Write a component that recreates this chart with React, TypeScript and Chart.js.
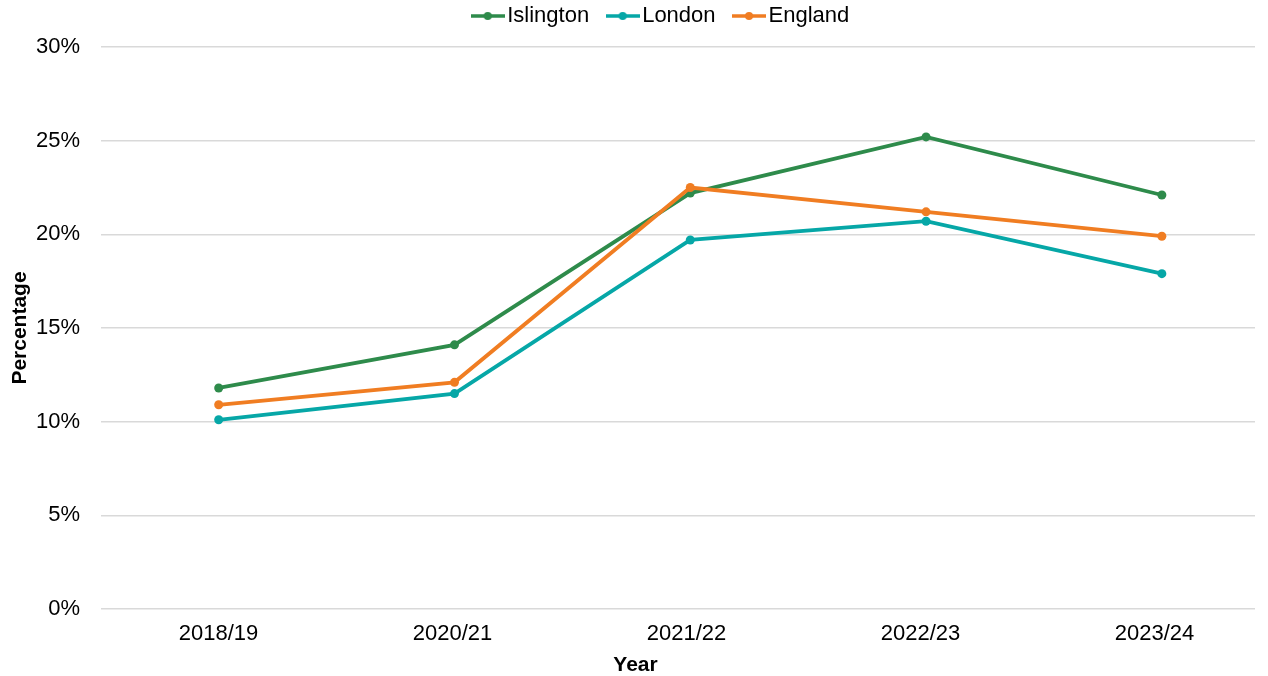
import React, { useEffect, useRef } from "react";
import { Chart, registerables } from "chart.js";

Chart.register(...registerables);

const years = ["2018/19", "2020/21", "2021/22", "2022/23", "2023/24"];
const islington = [11.8, 14.1, 22.2, 25.2, 22.1];
const london = [10.1, 11.5, 19.7, 20.7, 17.9];
const england = [10.9, 12.1, 22.5, 21.2, 19.9];
const yTicks = [0, 5, 10, 15, 20, 25, 30];

const seriesNames = ["Islington", "London", "England"];
const seriesColors = ["#2E8B4B", "#06A7A7", "#F07D22"];
const seriesOrder = [1, 2, 0];

const FONT = "'Liberation Sans', Arial, sans-serif";
const LEGEND_CENTER = 664.25;
const YEAR_CENTER = 635.5;

function makeMarker(color: string): HTMLCanvasElement {
  const c = document.createElement("canvas");
  c.width = 34;
  c.height = 10;
  const ctx = c.getContext("2d")!;
  ctx.strokeStyle = color;
  ctx.lineWidth = 3.3;
  ctx.beginPath();
  ctx.moveTo(0, 5);
  ctx.lineTo(34, 5);
  ctx.stroke();
  ctx.fillStyle = color;
  ctx.beginPath();
  ctx.arc(17, 5, 4, 0, Math.PI * 2);
  ctx.fill();
  return c;
}

const shiftPlugin = {
  id: "shiftBlocks",
  afterLayout(chart: any) {
    const lg = chart.legend;
    if (lg) {
      const d = LEGEND_CENTER - (lg.left + lg.right) / 2;
      lg.left += d;
      lg.right += d;
    }
    const tb = chart.titleBlock;
    if (tb) {
      const d = YEAR_CENTER - (tb.left + tb.right) / 2;
      tb.left += d;
      tb.right += d;
    }
  },
};

export default function App() {
  const canvasRef = useRef<HTMLCanvasElement | null>(null);

  useEffect(() => {
    if (!canvasRef.current) return;
    const seriesValues = [islington, london, england];
    const markers = seriesColors.map((c) => makeMarker(c));
    const datasets = seriesValues.map((vals, si) => ({
      label: seriesNames[si],
      data: vals.map((v, i) => ({ x: i, y: v })),
      xAxisID: "x",
      borderColor: seriesColors[si],
      backgroundColor: seriesColors[si],
      pointBackgroundColor: seriesColors[si],
      pointBorderWidth: 0,
      pointRadius: 4.5,
      borderWidth: 3.8,
      tension: 0,
      order: seriesOrder[si],
    }));

    const chart = new Chart(canvasRef.current, {
      type: "line",
      data: { datasets },
      plugins: [shiftPlugin],
      options: {
        animation: false,
        responsive: true,
        maintainAspectRatio: false,
        layout: { padding: { top: -20, right: 13, left: 0, bottom: -2.1 } },
        plugins: {
          legend: {
            position: "top",
            labels: {
              font: { family: FONT, size: 22 },
              color: "#000",
              usePointStyle: true,
              boxWidth: 17,
              boxHeight: 17,
              padding: 25,
              generateLabels: (ch: any) =>
                ch.data.datasets.map((ds: any, i: number) => ({
                  text: ds.label,
                  pointStyle: markers[i],
                  datasetIndex: i,
                  hidden: false,
                  fillStyle: ds.borderColor,
                  strokeStyle: ds.borderColor,
                  lineWidth: 0,
                  fontColor: "#000",
                })),
            },
          },
          subtitle: {
            display: true,
            text: "",
            position: "top",
            weight: 100,
            padding: 0,
            font: { size: 10, lineHeight: 1 },
          } as any,
          title: {
            display: true,
            text: "Year",
            position: "bottom",
            padding: 0,
            color: "#000",
            font: { family: FONT, size: 21, weight: "bold", lineHeight: 1.2 },
          } as any,
          tooltip: { enabled: false },
        },
        scales: {
          x: {
            type: "linear",
            display: false,
            min: -0.4991,
            max: 4.395,
          },
          xl: {
            type: "linear",
            position: "bottom",
            min: -0.5021,
            max: 4.4295,
            grid: { display: false, drawTicks: false },
            border: { display: false },
            afterBuildTicks: (s: any) => {
              s.ticks = years.map((_, i) => ({ value: i }));
            },
            afterFit: (s: any) => {
              s.height = 43.9;
            },
            ticks: {
              callback: (v: any) => years[v as number],
              font: { family: FONT, size: 22 },
              color: "#000",
              padding: 12,
              maxRotation: 0,
              autoSkip: false,
            },
          },
          y: {
            min: 0,
            max: 30,
            afterBuildTicks: (s: any) => {
              s.ticks = yTicks.map((v) => ({ value: v }));
            },
            afterFit: (s: any) => {
              s.width = 101;
            },
            grid: { color: "#d9d9d9", lineWidth: 1.5, drawTicks: false },
            border: { display: false },
            ticks: {
              callback: (v: any) => v + "%",
              font: { family: FONT, size: 22 },
              color: "#000",
              padding: 21,
            },
            title: {
              display: true,
              text: "Percentage",
              font: { family: FONT, size: 21, weight: "bold" },
              color: "#000",
              padding: { top: 7.4, bottom: 0 },
            },
          },
        },
      } as any,
    });
    return () => chart.destroy();
  }, []);

  return (
    <div style={{ position: "absolute", left: 0, top: 0, width: 1268, height: 676 }}>
      <canvas ref={canvasRef} />
    </div>
  );
}
